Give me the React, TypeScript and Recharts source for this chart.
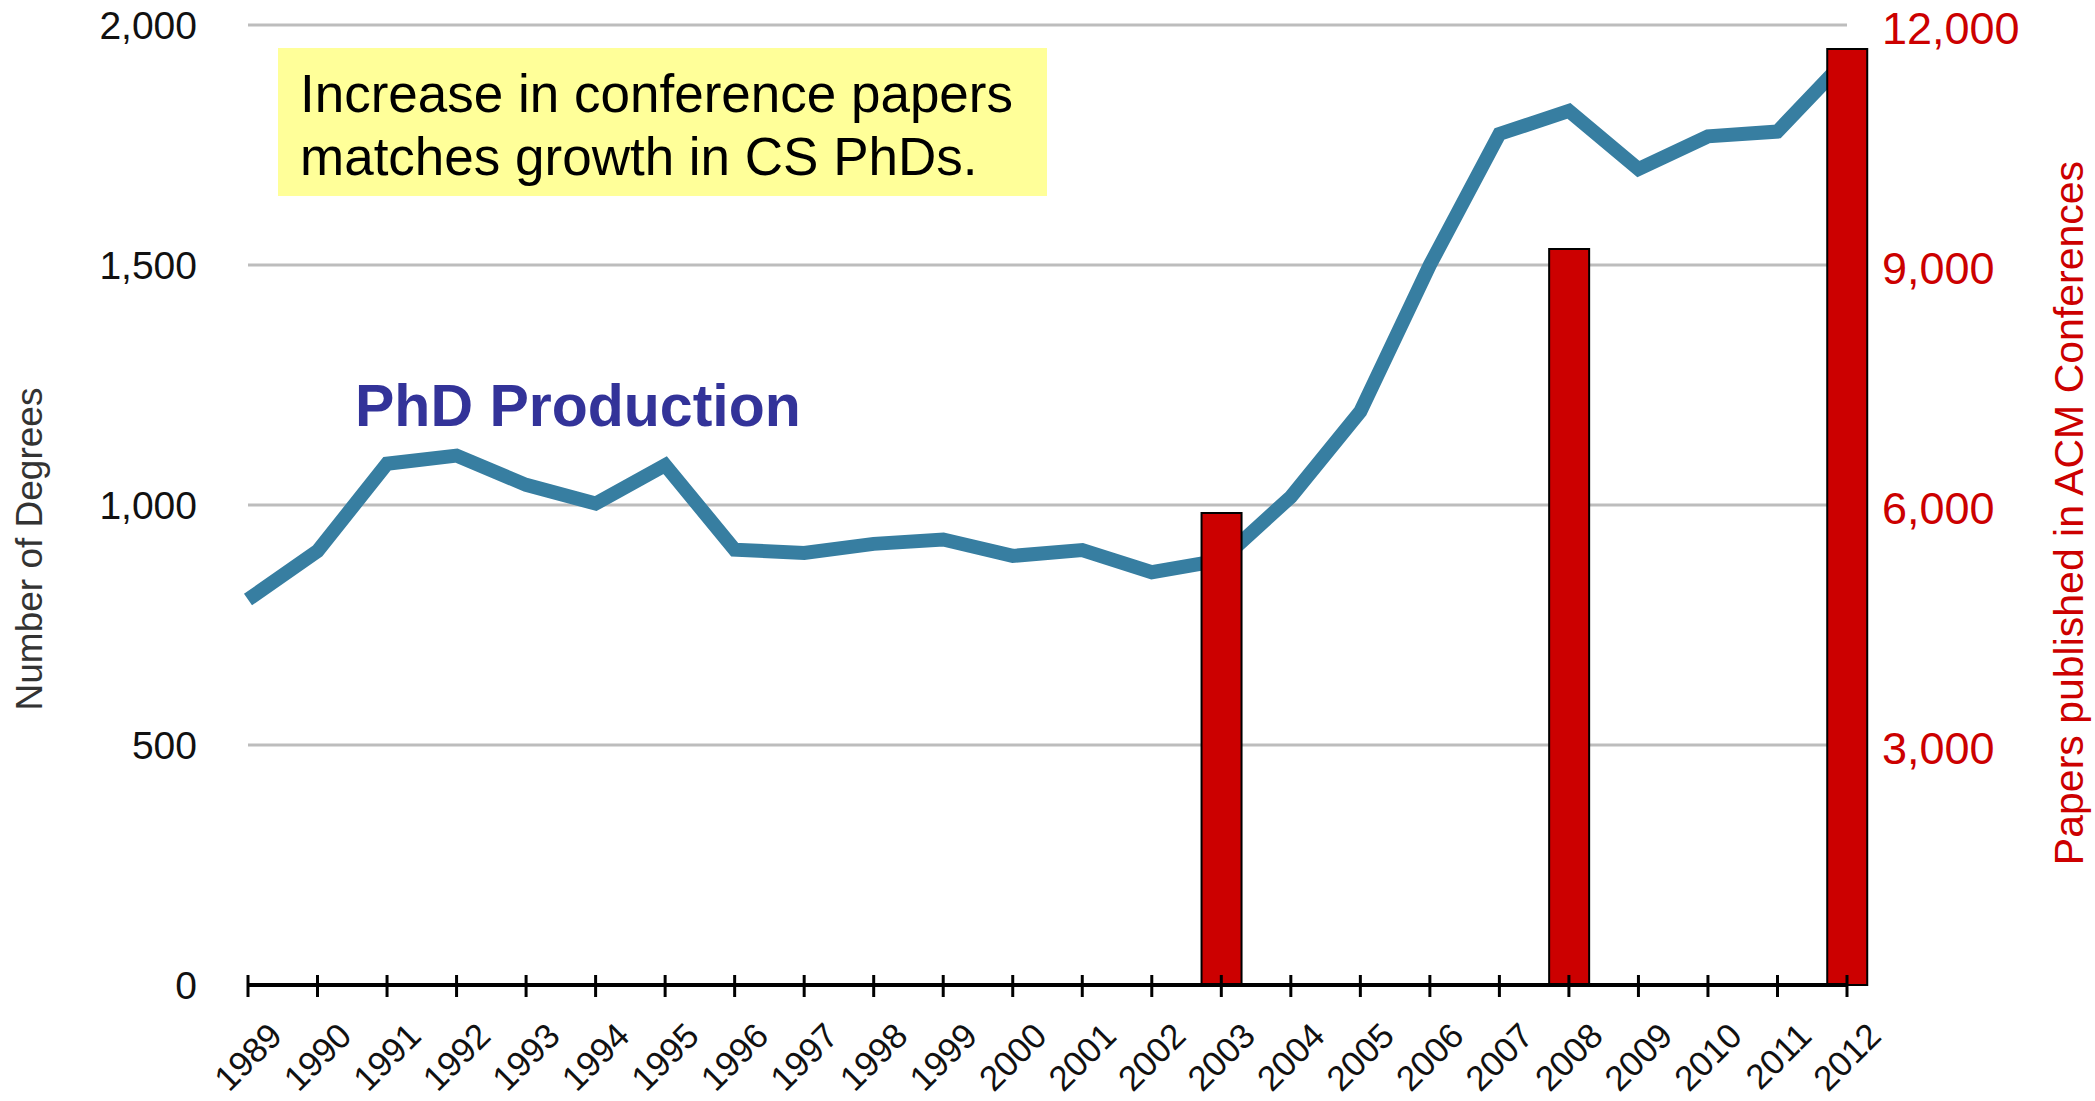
import React from 'react';
import { ComposedChart, Line, Bar, XAxis, YAxis, CartesianGrid, Label } from 'recharts';

// years on the x axis
const years = [1989, 1990, 1991, 1992, 1993, 1994, 1995, 1996, 1997, 1998, 1999, 2000,
  2001, 2002, 2003, 2004, 2005, 2006, 2007, 2008, 2009, 2010, 2011, 2012];

// CS PhDs awarded per year (left axis)
const phds = [803, 904, 1086, 1103, 1042, 1003, 1083, 907, 900, 919, 928, 894,
  906, 860, 885, 1017, 1195, 1500, 1773, 1821, 1700, 1768, 1778, 1930];

// papers in ACM conferences (right axis), only three years measured
const papers: (number | null)[] = [null, null, null, null, null, null, null, null, null, null, null, null,
  null, null, 5900, null, null, null, null, 9200, null, null, null, 11700];

const leftTicks = [0, 500, 1000, 1500, 2000];
const rightTicks = [3000, 6000, 9000, 12000];

const FONT = '"Liberation Sans", Arial, Helvetica, sans-serif';
const RED = '#cc0000';

const chartData = years.map((y, i) => ({ year: y, phds: phds[i], papers: papers[i] }));

const fmt = (v: number) => v.toLocaleString('en-US');

const YearTick = ({ x, y, payload }: any) => {
  const tx = x + 36;
  const ty = y + 53;
  return (
    <g>
      <line x1={x} y1={y - 10} x2={x} y2={y + 12} stroke="#000" strokeWidth={3} />
      <text x={tx} y={ty} textAnchor="end" fontSize={35} fontFamily={FONT} fill="#111"
        transform={`rotate(-45, ${tx}, ${ty})`}>
        {payload.value}
      </text>
    </g>
  );
};

const LeftTick = ({ x, y, payload }: any) => (
  <text x={x - 51} y={y} textAnchor="end" dominantBaseline="central" fontSize={39}
    fontFamily={FONT} fill="#111">
    {fmt(payload.value)}
  </text>
);

const RightTick = ({ x, y, payload }: any) => (
  <text x={x + 35} y={y + 3} textAnchor="start" dominantBaseline="central" fontSize={45}
    fontFamily={FONT} fill={RED}>
    {fmt(payload.value)}
  </text>
);

const LeftTitle = ({ viewBox }: any) => {
  const cx = viewBox.x + 29;
  const cy = viewBox.y + 524;
  return (
    <text x={cx} y={cy} textAnchor="middle" dominantBaseline="central" fontSize={37}
      fontFamily={FONT} fill="#333" transform={`rotate(-90, ${cx}, ${cy})`}>
      Number of Degrees
    </text>
  );
};

const RightTitle = ({ viewBox }: any) => {
  const cx = viewBox.x + 222;
  const cy = viewBox.y + 488;
  return (
    <text x={cx} y={cy} textAnchor="middle" dominantBaseline="central" fontSize={41}
      fontFamily={FONT} fill={RED} transform={`rotate(-90, ${cx}, ${cy})`}>
      Papers published in ACM Conferences
    </text>
  );
};

export default function App() {
  return (
    <div style={{ position: 'absolute', left: 0, top: 0, width: 2095, height: 1101, background: '#fff' }}>
      <ComposedChart width={2095} height={1101} data={chartData}
        margin={{ top: 25, right: 0, bottom: 0, left: 0 }}>
        <CartesianGrid yAxisId="left" vertical={false} stroke="#bdbdbd" strokeWidth={3} />
        <XAxis dataKey="year" type="number" domain={[1989, 2012]} ticks={years} interval={0}
          height={116} tickSize={0} tickMargin={0} tickLine={false} tick={<YearTick />}
          axisLine={{ stroke: '#000', strokeWidth: 4 }} allowDecimals={false} />
        <YAxis yAxisId="left" domain={[0, 2000]} ticks={leftTicks} width={248} tickSize={0}
          tickMargin={0} axisLine={false} tickLine={false} tick={<LeftTick />}>
          <Label content={<LeftTitle />} />
        </YAxis>
        <YAxis yAxisId="right" orientation="right" domain={[0, 12000]} ticks={rightTicks}
          width={248} tickSize={0} tickMargin={0} axisLine={false} tickLine={false}
          tick={<RightTick />}>
          <Label content={<RightTitle />} />
        </YAxis>
        <Line yAxisId="left" dataKey="phds" type="linear" stroke="#377ea1" strokeWidth={14}
          strokeLinejoin="miter" dot={false} activeDot={false} isAnimationActive={false}
          zIndex={100} />
        <Bar yAxisId="right" dataKey="papers" barSize={40} fill={RED} stroke="#000"
          strokeWidth={2} isAnimationActive={false} zIndex={450} />
      </ComposedChart>

      <div style={{
        position: 'absolute', left: 278, top: 48, width: 769, height: 148, background: '#ffff99',
        boxSizing: 'border-box', paddingTop: 14, paddingLeft: 22, fontFamily: FONT,
        fontSize: 53, lineHeight: '63px', color: '#000', whiteSpace: 'nowrap',
      }}>
        Increase in conference papers<br />matches growth in CS PhDs.
      </div>

      <div style={{
        position: 'absolute', left: 355, top: 377, fontFamily: FONT, fontWeight: 'bold',
        fontSize: 59, lineHeight: '59px', color: '#333399', whiteSpace: 'nowrap',
      }}>
        PhD Production
      </div>
    </div>
  );
}
